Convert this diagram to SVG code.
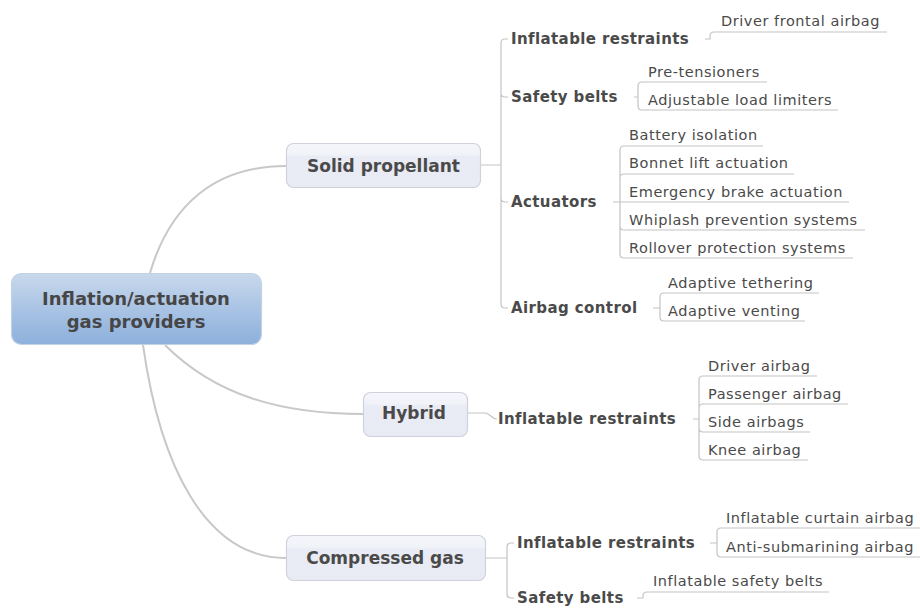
<svg xmlns="http://www.w3.org/2000/svg" width="920" height="608" viewBox="0 0 920 608">
<defs>
<linearGradient id="rootGrad" x1="0" y1="0" x2="0" y2="1">
<stop offset="0" stop-color="#c9d9ec"/>
<stop offset="0.5" stop-color="#a9c3e4"/>
<stop offset="1" stop-color="#8db0dc"/>
</linearGradient>
<linearGradient id="nodeGrad" x1="0" y1="0" x2="0" y2="1">
<stop offset="0" stop-color="#f5f6fb"/>
<stop offset="0.25" stop-color="#f2f3f9"/>
<stop offset="0.3" stop-color="#eaecf5"/>
<stop offset="1" stop-color="#e8eaf4"/>
</linearGradient>
</defs>
<style>
.main{fill:none;stroke:#c8c8c8;stroke-width:2}
.ln{fill:none;stroke:#c4c4c4;stroke-width:1.2}
.node{fill:url(#nodeGrad);stroke:#cfd1db;stroke-width:1.2}
.root{fill:url(#rootGrad);stroke:#c2d1e4;stroke-width:1.2}
.t0{font-family:"DejaVu Sans",Verdana,sans-serif;font-size:18px;font-weight:bold;fill:#464646;text-anchor:middle}
.t1{font-family:"DejaVu Sans",Verdana,sans-serif;font-size:17px;font-weight:bold;fill:#4a4a4a;text-anchor:middle}
.t2{font-family:"DejaVu Sans",Verdana,sans-serif;font-size:15px;font-weight:bold;fill:#4a4a4a;letter-spacing:0.4px}
.t3{font-family:"DejaVu Sans",Verdana,sans-serif;font-size:14.5px;fill:#4a4a4a;letter-spacing:0.55px}
</style>
<rect width="920" height="608" fill="#ffffff"/>
<g id="connectors">
<path class="main" d="M150,273 C170,205 215,166 286,166"/>
<path class="main" d="M165,345 C215,395 280,414 363,414"/>
<path class="main" d="M143,345 C160,465 205,558 286,558"/>
<path class="ln" d="M481,165 H501 M501,165 V43 Q501,39 505,39 H508 M501,165 V93 Q501,97 505,97 H508 M501,165 V198 Q501,202 505,202 H508 M501,165 V304 Q501,308 505,308 H508"/>
<path class="ln" d="M705,39 H710 V36 Q710,32 714,32 H887"/>
<path class="ln" d="M634,97 H638 M638,97 V86 Q638,82 642,82 H767 M638,97 V106 Q638,110 642,110 H838"/>
<path class="ln" d="M613,202 H620 M620,202 V150 Q620,146 624,146 H763 M620,202 V178 Q620,174 624,174 H794 M620,202 H849 M620,202 V226 Q620,230 624,230 H865 M620,202 V254 Q620,258 624,258 H853"/>
<path class="ln" d="M653,308 H660 M660,308 V297 Q660,293 664,293 H819 M660,308 V317 Q660,321 664,321 H805"/>
<path class="ln" d="M468,413 H485 C490,413 491,419 497,419"/>
<path class="ln" d="M693,419 H699 M699,419 V380 Q699,376 703,376 H817 M699,419 V408 Q699,404 703,404 H848 M699,419 V428 Q699,432 703,432 H810 M699,419 V456 Q699,460 703,460 H808"/>
<path class="ln" d="M486,558 H507 M507,558 V547 Q507,543 511,543 H514 M507,558 V594 Q507,598 511,598 H514"/>
<path class="ln" d="M710,543 H717 M717,543 V532 Q717,528 721,528 H920 M717,543 V553 Q717,557 721,557 H920"/>
<path class="ln" d="M637,598 H643 V596 Q643,592 647,592 H829"/>
</g>
<g id="root">
<rect class="root" x="11.5" y="273.5" width="250" height="71" rx="10"/>
<text class="t0" x="136" y="305">Inflation/actuation</text>
<text class="t0" x="136" y="328">gas providers</text>
</g>
<g id="solid-propellant">
<rect class="node" x="286.5" y="143.5" width="194" height="44" rx="7"/>
<text class="t1" x="383.5" y="171.5">Solid propellant</text>
</g>
<g id="hybrid">
<rect class="node" x="363.5" y="392.5" width="104" height="44" rx="7"/>
<text class="t1" x="414" y="419">Hybrid</text>
</g>
<g id="compressed-gas">
<rect class="node" x="286.5" y="535.5" width="199" height="45" rx="7"/>
<text class="t1" x="385" y="564">Compressed gas</text>
</g>
<g id="sp-inflatable"><text class="t2" x="511" y="44">Inflatable restraints</text></g>
<g id="sp-safety"><text class="t2" x="511" y="102">Safety belts</text></g>
<g id="sp-actuators"><text class="t2" x="511" y="207">Actuators</text></g>
<g id="sp-airbag"><text class="t2" x="511" y="313">Airbag control</text></g>
<g id="leaf-driver-frontal"><text class="t3" x="721" y="26">Driver frontal airbag</text></g>
<g id="leaf-pretensioners"><text class="t3" x="648" y="77">Pre-tensioners</text></g>
<g id="leaf-adjustable"><text class="t3" x="648" y="105">Adjustable load limiters</text></g>
<g id="leaf-battery"><text class="t3" x="629" y="140">Battery isolation</text></g>
<g id="leaf-bonnet"><text class="t3" x="629" y="168">Bonnet lift actuation</text></g>
<g id="leaf-emergency"><text class="t3" x="629" y="197">Emergency brake actuation</text></g>
<g id="leaf-whiplash"><text class="t3" x="629" y="225">Whiplash prevention systems</text></g>
<g id="leaf-rollover"><text class="t3" x="629" y="253">Rollover protection systems</text></g>
<g id="leaf-tethering"><text class="t3" x="668" y="288">Adaptive tethering</text></g>
<g id="leaf-venting"><text class="t3" x="668" y="316">Adaptive venting</text></g>
<g id="hy-inflatable"><text class="t2" x="498" y="424">Inflatable restraints</text></g>
<g id="leaf-driver"><text class="t3" x="708" y="371">Driver airbag</text></g>
<g id="leaf-passenger"><text class="t3" x="708" y="399">Passenger airbag</text></g>
<g id="leaf-side"><text class="t3" x="708" y="427">Side airbags</text></g>
<g id="leaf-knee"><text class="t3" x="708" y="455">Knee airbag</text></g>
<g id="cg-inflatable"><text class="t2" x="517" y="548">Inflatable restraints</text></g>
<g id="cg-safety"><text class="t2" x="517" y="603">Safety belts</text></g>
<g id="leaf-curtain"><text class="t3" x="726" y="523">Inflatable curtain airbag</text></g>
<g id="leaf-antisub"><text class="t3" x="726" y="552">Anti-submarining airbag</text></g>
<g id="leaf-safety-belts"><text class="t3" x="653" y="586">Inflatable safety belts</text></g>
</svg>
